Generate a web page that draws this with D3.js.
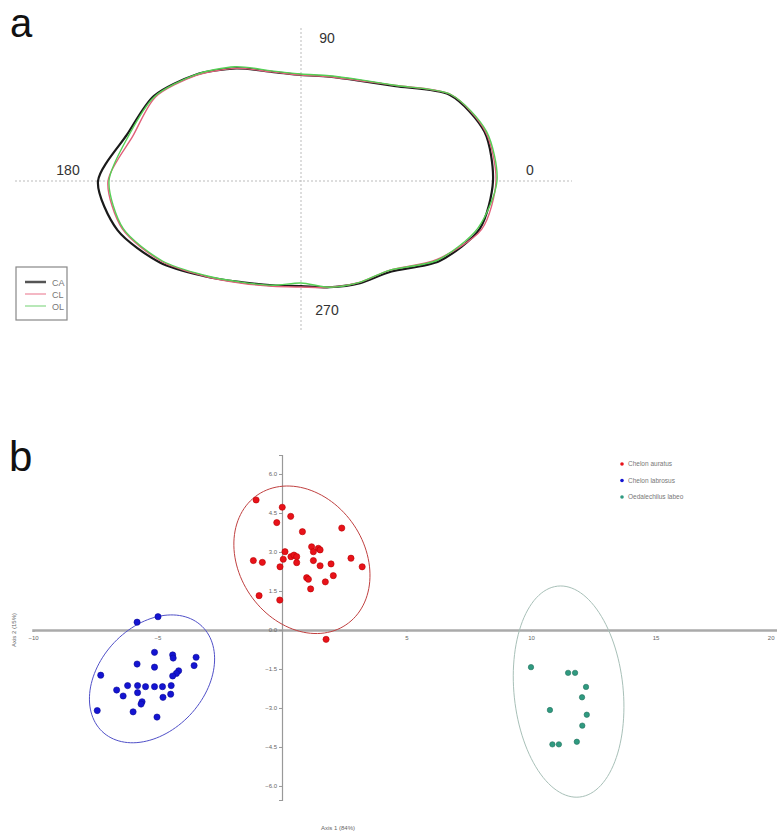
<!DOCTYPE html>
<html>
<head>
<meta charset="utf-8">
<script src="https://cdn.jsdelivr.net/npm/d3@7"></script>
<style>
  body { margin: 0; background: #fff; }
  text { font-family: "Liberation Sans", Arial, sans-serif; }
</style>
</head>
<body>
<script>
// ---- panel a : outline radii (relative units) at each angle ----
var angles = [0, 15, 30, 45, 60, 75, 90, 105, 120, 135, 150, 165, 180, 195, 210, 225, 240, 255, 270, 285, 300, 315, 330, 345]
var radiiCA = [1.92, 1.90, 1.72, 1.34, 1.16, 1.08, 1.06, 1.13, 1.30, 1.50, 1.70, 1.80, 2.03, 1.90, 1.63, 1.35, 1.17, 1.08, 1.05, 1.10, 1.18, 1.28, 1.60, 1.85]
var radiiCL = [1.95, 1.91, 1.73, 1.35, 1.16, 1.08, 1.06, 1.13, 1.30, 1.49, 1.68, 1.74, 1.93, 1.85, 1.61, 1.35, 1.18, 1.09, 1.06, 1.10, 1.17, 1.26, 1.57, 1.87]
var radiiOL = [1.96, 1.92, 1.73, 1.35, 1.17, 1.09, 1.07, 1.14, 1.32, 1.50, 1.69, 1.78, 1.92, 1.84, 1.60, 1.34, 1.17, 1.08, 1.02, 1.10, 1.17, 1.26, 1.58, 1.83]
var outlineNames = ["CA", "CL", "OL"]
var directionLabels = ["0", "90", "180", "270"]

// ---- panel b : ordination scores ----
var speciesNames = ["Chelon auratus", "Chelon labrosus", "Oedalechilus labeo"]
var auratusX = [-1.04, 0.01, 0.35, -0.21, 0.82, 2.40, 1.19, 1.46, 1.26, 1.53, 0.12, 0.36, 0.48, 0.59, 0.05, -1.15, -0.79, 0.59, 1.26, 2.77, 1.53, 1.97, -0.08, 3.22, 0.99, 1.06, 2.06, 1.74, 1.15, -0.92, -0.09, 1.77]
var auratusY = [5.00, 4.72, 4.37, 4.13, 3.78, 3.92, 3.20, 3.14, 3.01, 3.08, 3.01, 2.82, 2.88, 2.82, 2.72, 2.67, 2.60, 2.59, 2.67, 2.76, 2.47, 2.54, 2.43, 2.43, 2.01, 1.95, 2.09, 1.85, 1.58, 1.32, 1.15, -0.36]
var labrosusX = [-5.82, -4.98, -5.12, -4.39, -4.37, -3.45, -5.82, -5.12, -3.53, -4.15, -4.24, -4.39, -7.28, -6.20, -5.80, -5.48, -5.12, -4.80, -4.45, -6.64, -5.80, -6.38, -4.47, -4.78, -5.62, -5.66, -7.42, -5.98, -5.02]
var labrosusY = [0.30, 0.51, -0.86, -0.96, -1.08, -1.05, -1.31, -1.43, -1.37, -1.57, -1.67, -1.77, -1.74, -2.14, -2.14, -2.18, -2.18, -2.18, -2.14, -2.31, -2.41, -2.54, -2.47, -2.59, -2.76, -2.85, -3.10, -3.15, -3.35]
var labeoX = [10.00, 11.49, 11.77, 12.21, 12.05, 10.76, 12.24, 12.06, 11.84, 10.86, 11.12]
var labeoY = [-1.43, -1.65, -1.65, -2.19, -2.59, -3.08, -3.26, -3.68, -4.30, -4.40, -4.40]
// confidence ellipses: centre x, centre y, semi-axes, rotation (deg)
var ellipseCx = [0.80, -5.22, 11.51]
var ellipseCy = [2.70, -1.88, -2.37]
var ellipseA = [3.07, 2.85, 4.08]
var ellipseB = [2.47, 2.06, 2.19]
var ellipseRot = [-50, 43, -83.7]
var xTicks = [-10, -5, 5, 10, 15, 20]
var yTicks = [-6, -4.5, -3, -1.5, 0, 1.5, 3, 4.5, 6]

var width = 777, height = 839

var svg = d3.select("body").append("svg")
    .attr("width", width)
    .attr("height", height)

svg.append("rect").attr("width", width).attr("height", height).attr("fill", "#fff")

// ================= panel a =================
var cx = 301, cy = 181
var r = d3.scaleLinear().domain([0, 1]).range([0, 100])

svg.append("text").attr("x", 10).attr("y", 37)
    .attr("font-size", 40).attr("fill", "#111").text("a")

var ga = svg.append("g").attr("transform", "translate(" + cx + "," + cy + ")")

ga.append("line").attr("x1", 15 - cx).attr("x2", 572 - cx).attr("y1", 0).attr("y2", 0)
    .attr("stroke", "#bbb").attr("stroke-width", 1).attr("stroke-dasharray", "2,2")
ga.append("line").attr("x1", 0).attr("x2", 0).attr("y1", 28 - cy).attr("y2", 330 - cy)
    .attr("stroke", "#bbb").attr("stroke-width", 1).attr("stroke-dasharray", "2,2")

var labelPos = [[229, -6], [26, -138], [-233, -6], [26, 134]]
ga.selectAll("text.dir")
  .data(directionLabels)
  .enter().append("text")
    .attr("class", "dir")
    .attr("x", function(d, i) { return labelPos[i][0] })
    .attr("y", function(d, i) { return labelPos[i][1] })
    .attr("text-anchor", "middle")
    .attr("font-size", 14)
    .attr("fill", "#333")
    .text(function(d) { return d })

var radial = d3.lineRadial()
    .angle(function(d) { return Math.PI / 2 - d[0] * Math.PI / 180 })
    .radius(function(d) { return r(d[1]) })
    .curve(d3.curveCardinalClosed.tension(0.2))

var outlines = [
  {name: "CA", radii: radiiCA, color: "#1a1a1a", w: 2.2},
  {name: "CL", radii: radiiCL, color: "#e0607a", w: 1.4},
  {name: "OL", radii: radiiOL, color: "#55d055", w: 1.4}
]

ga.selectAll("path.outline")
  .data(outlines)
  .enter().append("path")
    .attr("class", "outline")
    .attr("fill", "none")
    .attr("stroke", function(d) { return d.color })
    .attr("stroke-width", function(d) { return d.w })
    .attr("d", function(d) { return radial(angles.map(function(a, i) { return [a, d.radii[i]] })) })

// legend a
var la = svg.append("g").attr("transform", "translate(16,267)")
la.append("rect").attr("width", 51).attr("height", 53)
    .attr("fill", "#fff").attr("stroke", "#888").attr("stroke-width", 1.2)
var legColors = ["#555", "#f0a0b0", "#a0e0a0"]
outlineNames.forEach(function(n, i) {
  la.append("line").attr("x1", 9).attr("x2", 30).attr("y1", 15 + i * 12).attr("y2", 15 + i * 12)
      .attr("stroke", legColors[i]).attr("stroke-width", i == 0 ? 2.5 : 1.5)
  la.append("text").attr("x", 36).attr("y", 18.5 + i * 12)
      .attr("font-size", 9).attr("fill", "#777").text(n)
})

// ================= panel b =================
svg.append("text").attr("x", 9).attr("y", 471)
    .attr("font-size", 42).attr("fill", "#111").text("b")

var x = d3.scaleLinear().domain([-10, 20]).range([33, 780])
var y = d3.scaleLinear().domain([-6.54, 6.73]).range([800, 455])

var gb = svg.append("g")

var xAxis = gb.append("g")
    .attr("transform", "translate(0," + y(0) + ")")
    .call(d3.axisBottom(x).tickValues(xTicks).tickSize(2).tickPadding(4)
      .tickFormat(d3.format("d")))
xAxis.select(".domain").attr("stroke", "#aaa").attr("stroke-width", 2.5)
xAxis.selectAll(".tick line").attr("stroke", "#aaa")
xAxis.selectAll("text").attr("font-size", 6).attr("fill", "#666")
  .filter(function(d) { return d == 20 }).attr("text-anchor", "end").attr("dx", -6)

var yAxis = gb.append("g")
    .attr("transform", "translate(" + x(0) + ",0)")
    .call(d3.axisLeft(y).tickValues(yTicks).tickSize(3).tickPadding(2)
      .tickFormat(d3.format(".1f")))
yAxis.select(".domain").attr("stroke", "#999").attr("stroke-width", 1.2)
yAxis.selectAll(".tick line").attr("stroke", "#999")
yAxis.selectAll("text").attr("font-size", 6).attr("fill", "#666")

gb.append("text").attr("x", 338).attr("y", 830).attr("text-anchor", "middle")
    .attr("font-size", 6).attr("fill", "#666").text("Axis 1 (84%)")
gb.append("text").attr("transform", "translate(16," + y(0) + ") rotate(-90)")
    .attr("text-anchor", "middle")
    .attr("font-size", 6).attr("fill", "#666").text("Axis 2 (15%)")

var groups = [
  {xs: auratusX, ys: auratusY, fill: "#e8121a", stroke: "#b00", ell: "#c04040", rad: 3.1},
  {xs: labrosusX, ys: labrosusY, fill: "#1414d2", stroke: "#0a0a99", ell: "#5050c8", rad: 3.1},
  {xs: labeoX, ys: labeoY, fill: "#2f9a80", stroke: "#22705c", ell: "#a8c0b8", rad: 2.7}
]

var ellLine = d3.line()
    .x(function(d) { return x(d[0]) })
    .y(function(d) { return y(d[1]) })
    .curve(d3.curveLinearClosed)

groups.forEach(function(g, k) {
  var phi = ellipseRot[k] * Math.PI / 180
  var pts = d3.range(0, 360, 3).map(function(t) {
    t = t * Math.PI / 180
    var ex = ellipseA[k] * Math.cos(t), ey = ellipseB[k] * Math.sin(t)
    return [ellipseCx[k] + ex * Math.cos(phi) - ey * Math.sin(phi),
            ellipseCy[k] + ex * Math.sin(phi) + ey * Math.cos(phi)]
  })
  gb.append("path").attr("d", ellLine(pts))
      .attr("fill", "none").attr("stroke", g.ell).attr("stroke-width", 1)
})

groups.forEach(function(g) {
  gb.append("g").selectAll("circle")
    .data(g.xs.map(function(v, i) { return [v, g.ys[i]] }))
    .enter().append("circle")
      .attr("cx", function(d) { return x(d[0]) })
      .attr("cy", function(d) { return y(d[1]) })
      .attr("r", g.rad)
      .attr("fill", g.fill)
      .attr("stroke", g.stroke)
      .attr("stroke-width", 0.6)
})

// legend b
var lb = svg.append("g").attr("transform", "translate(622,464)")
speciesNames.forEach(function(n, i) {
  lb.append("circle").attr("cx", 0).attr("cy", i * 16.5).attr("r", 1.8).attr("fill", groups[i].fill)
  lb.append("text").attr("x", 6).attr("y", i * 16.5 + 2.2)
      .attr("font-size", 6.5).attr("fill", "#777").text(n)
})
</script>
</body>
</html>
